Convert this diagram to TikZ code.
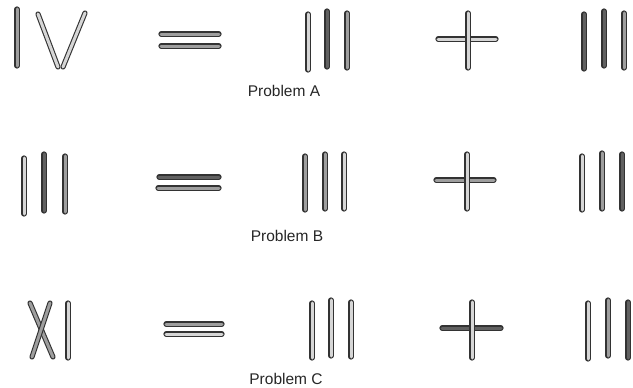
\documentclass[tikz,border=0pt]{standalone}
\usepackage{fontspec}
\setmainfont{Liberation Sans}
\usetikzlibrary{positioning,calc}

\begin{document}
\begin{tikzpicture}[x=1pt,y=-1pt,line cap=round,
    match/.style={line width=3pt,draw=black!38,
      preaction={draw=black!80,line width=5.2pt}},
    darkmatch/.style={match,draw=black!62},
    lightmatch/.style={match,draw=black!16},
    label/.style={font=\fontsize{15.5}{17}\selectfont,text=black!85,inner sep=0pt}]
      \useasboundingbox (0,0) rectangle (633,388);

      \node[label] (pa) at (284,91) {Problem A};
      \node[label] (pb) at (287,236) {Problem B};
      \node[label] (pc) at (286,379) {Problem C};

      \draw[match] (17,9) -- (17,66);
      \draw[lightmatch] (38,14) -- (58,67);
      \draw[lightmatch] (85,13) -- (63,67);
      \draw[match] (161,34) -- (219,34);
      \draw[match] (161,46) -- (219,46);
      \draw[lightmatch] (308,14) -- (308,70);
      \draw[darkmatch] (327,11) -- (327,67);
      \draw[match] (347,13) -- (347,68);
      \draw[lightmatch] (438,39) -- (496,39);
      \draw[lightmatch] (468,13) -- (468,68);
      \draw[darkmatch] (584,14) -- (584,69);
      \draw[darkmatch] (604,11) -- (604,66);
      \draw[match] (624,13) -- (624,68);

      \draw[lightmatch] (24,158) -- (24,214);
      \draw[darkmatch] (44,154) -- (44,211);
      \draw[match] (65,156) -- (65,212);
      \draw[darkmatch] (159,177) -- (219,177);
      \draw[match] (158,188) -- (219,188);
      \draw[match] (305,156) -- (305,210);
      \draw[match] (325,154) -- (325,209);
      \draw[lightmatch] (344,154) -- (344,209);
      \draw[match] (436,180) -- (494,180);
      \draw[lightmatch] (467,154) -- (467,209);
      \draw[lightmatch] (582,156) -- (582,210);
      \draw[match] (602,153) -- (602,209);
      \draw[darkmatch] (622,154) -- (622,209);

      \draw[match] (30,303) -- (53,357);
      \draw[match] (50,303) -- (32,357);
      \draw[lightmatch] (68,303) -- (68,358);
      \draw[match] (166,324) -- (222,324);
      \draw[lightmatch] (166,334) -- (222,334);
      \draw[lightmatch] (312,303) -- (312,358);
      \draw[lightmatch] (331,300) -- (331,356);
      \draw[lightmatch] (351,302) -- (351,357);
      \draw[darkmatch] (442,328) -- (501,328);
      \draw[lightmatch] (472,302) -- (472,358);
      \draw[lightmatch] (588,303) -- (588,359);
      \draw[match] (608,300) -- (608,356);
      \draw[darkmatch] (628,302) -- (628,358);
\end{tikzpicture}
\end{document}
